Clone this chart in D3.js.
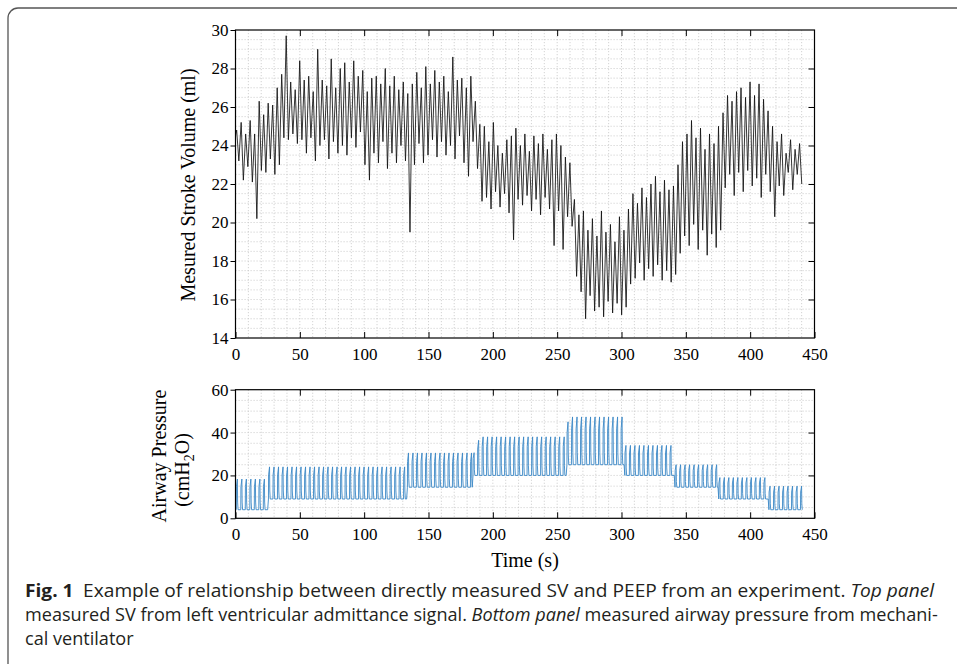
<!DOCTYPE html>
<html>
<head>
<meta charset="utf-8">
<script src="https://cdn.jsdelivr.net/npm/d3@7/dist/d3.min.js"></script>
<style>
  html, body { margin: 0; padding: 0; background: #fff; }
  svg { display: block; }
</style>
</head>
<body>
<svg id="fig" width="957" height="664"></svg>
<script>
// ---- data -------------------------------------------------------------
const timeTicks = [0, 50, 100, 150, 200, 250, 300, 350, 400, 450];
const svTicks = [14, 16, 18, 20, 22, 24, 26, 28, 30];
const pawTicks = [0, 20, 40, 60];

// Stroke volume (ml): per respiratory cycle maximum and minimum, one cycle every 3.5 s
const svCycle = 3.5;
const svStart = 24.5;
const svPeak = [
  24.8, 25.2, 24.6, 25.3, 24.6, 26.3, 25.6, 26.2, 26.1, 27.0,
  27.7, 29.7, 27.3, 26.9, 28.4, 27.4, 27.6, 26.8, 29.0, 27.4,
  27.1, 28.5, 27.0, 28.0, 28.3, 27.3, 28.4, 27.6, 27.9, 26.8,
  27.5, 27.6, 27.2, 28.0, 27.1, 27.6, 26.9, 27.3, 26.7, 27.2,
  27.8, 27.0, 28.1, 27.2, 27.9, 27.3, 27.6, 26.8, 28.6, 27.4,
  27.5, 27.0, 27.6, 26.3, 25.1, 25.0, 24.2, 25.2, 24.0, 23.6,
  24.3, 24.5, 24.9, 24.0, 24.6, 23.7, 24.5, 24.1, 24.6, 23.8,
  24.3, 24.6, 24.0, 23.4, 23.1, 21.2, 20.4, 20.6, 19.6, 20.2,
  19.3, 20.6, 19.5, 19.9, 19.0, 20.3, 19.6, 20.7, 21.5, 21.0,
  21.8, 21.3, 22.0, 22.4, 21.6, 22.2, 21.7, 21.9, 23.0, 24.2,
  24.6, 25.3, 24.4, 24.9, 23.8, 24.6, 24.1, 25.0, 25.7, 26.6,
  26.3, 26.8, 27.0, 26.5, 27.3, 26.6, 27.2, 26.4, 25.8, 25.0,
  24.2, 24.6, 23.6, 24.3, 23.8, 24.1
];
const svTrough = [
  23.2, 22.2, 22.9, 22.1, 20.2, 22.7, 22.6, 23.3, 22.5, 23.0,
  24.4, 24.3, 24.6, 24.1, 24.3, 23.6, 24.4, 23.2, 24.0, 24.3,
  23.3, 24.2, 23.6, 24.0, 23.5, 24.4, 23.9, 24.7, 23.0, 22.2,
  23.6, 23.1, 24.2, 22.8, 23.6, 23.1, 24.0, 23.2, 19.5, 23.0,
  24.1, 23.1, 23.5, 24.3, 23.4, 24.2, 23.5, 24.0, 23.3, 24.5,
  23.1, 22.4, 24.2, 22.8, 21.1, 21.3, 20.7, 21.6, 20.8, 21.5,
  20.5, 19.1, 21.2, 20.9, 21.4, 20.6, 21.2, 20.4, 21.3, 20.7,
  18.8, 20.6, 18.6, 20.3, 19.8, 17.2, 16.4, 15.0, 16.2, 15.4,
  15.6, 15.1, 15.9, 15.3, 15.8, 15.2, 15.6, 16.8, 17.1, 17.9,
  17.0, 17.6, 17.2, 17.8, 17.0, 17.5, 16.9, 17.3, 18.4, 19.3,
  18.8, 19.9, 18.6, 19.6, 18.3, 19.4, 18.7, 19.6, 21.8, 22.5,
  21.4, 22.6, 21.6, 22.7, 21.9, 22.3, 21.3, 22.5, 21.6, 20.3,
  21.9, 21.4, 22.6, 21.7, 22.5, 22.0
];

// Airway pressure (cmH2O): PEEP steps with peak inspiratory pressure per step
const breathPeriod = 3.5;
const segStart = [0, 25, 133, 184, 257, 302, 341, 375, 414];
const segEnd   = [25, 133, 184, 257, 302, 341, 375, 414, 440.5];
const peep     = [4, 9, 14.5, 20, 25, 20, 14.5, 9, 4];
const peakP    = [18.3, 24, 30.5, 38, 47.3, 34, 25, 19, 15];
const leadPeaks = [[], [], [], [30.6, 36.4], [45.0], [], [], [], []];

// ---- layout -----------------------------------------------------------
const svg = d3.select("#fig");
const serif = "'Liberation Serif', 'Times New Roman', serif";

svg.append("rect")
  .attr("x", 8).attr("y", 8).attr("width", 1000).attr("height", 720)
  .attr("rx", 10).attr("ry", 10)
  .attr("fill", "none").attr("stroke", "#555").attr("stroke-width", 1.3);

const x = d3.scaleLinear().domain([0, 450]).range([235.5, 814.5]);
const ySV = d3.scaleLinear().domain([14, 30]).range([338, 30]);
const yP = d3.scaleLinear().domain([0, 60]).range([518.3, 389.7]);

function panel(y, yTicks, yGridStep) {
  const g = svg.append("g");
  const [x0, x1] = x.range();
  const [yb, yt] = y.range();
  const grid = g.append("g")
    .attr("stroke", "#c8c8c8").attr("stroke-width", 0.8)
    .attr("stroke-dasharray", "1.2,1.8");
  grid.selectAll("line.v").data(d3.range(10, 450, 10)).join("line")
    .attr("x1", d => x(d)).attr("x2", d => x(d)).attr("y1", yt).attr("y2", yb);
  const [d0, d1] = y.domain();
  grid.selectAll("line.h").data(d3.range(d0 + yGridStep, d1 - 1e-9, yGridStep)).join("line")
    .attr("y1", d => y(d)).attr("y2", d => y(d)).attr("x1", x0).attr("x2", x1);
  return g;
}

function frameAxes(g, y, yTicks) {
  const [x0, x1] = x.range();
  const [yb, yt] = y.range();
  const style = sel => {
    sel.select(".domain").remove();
    sel.selectAll("line").attr("stroke", "#000").attr("stroke-width", 1);
    sel.selectAll("text").attr("fill", "#000")
      .style("font-family", serif).style("font-size", "17px");
  };
  g.append("g").attr("transform", `translate(0,${yb})`)
    .call(d3.axisBottom(x).tickValues(timeTicks).tickFormat(d3.format("d"))
      .tickSizeInner(-6).tickSizeOuter(0).tickPadding(10))
    .call(style);
  g.append("g").attr("transform", `translate(0,${yt})`)
    .call(d3.axisTop(x).tickValues(timeTicks.slice(1, -1)).tickFormat("")
      .tickSizeInner(-6).tickSizeOuter(0))
    .call(style);
  g.append("g").attr("transform", `translate(${x0},0)`)
    .call(d3.axisLeft(y).tickValues(yTicks).tickFormat(d3.format("d"))
      .tickSizeInner(5).tickSizeOuter(0).tickPadding(2))
    .call(style);
  g.append("g").attr("transform", `translate(${x1},0)`)
    .call(d3.axisRight(y).tickValues(yTicks.slice(1, -1)).tickFormat("")
      .tickSizeInner(-6).tickSizeOuter(0))
    .call(style);
  g.append("rect")
    .attr("x", x0).attr("y", yt).attr("width", x1 - x0).attr("height", yb - yt)
    .attr("fill", "none").attr("stroke", "#000").attr("stroke-width", 1.2);
}

// ---- top panel: stroke volume ----------------------------------------
const gTop = panel(ySV, svTicks, 0.5);
const svPoints = [[0, svStart]];
svPeak.forEach((v, i) => {
  svPoints.push([i * svCycle + 0.9, v]);
  svPoints.push([i * svCycle + 2.6, svTrough[i]]);
});
gTop.append("path")
  .datum(svPoints)
  .attr("fill", "none").attr("stroke", "#111").attr("stroke-width", 0.85)
  .attr("stroke-linejoin", "round")
  .attr("d", d3.line().x(d => x(d[0])).y(d => ySV(d[1])));
frameAxes(gTop, ySV, svTicks);

svg.append("text")
  .attr("transform", "translate(195,185) rotate(-90)")
  .attr("text-anchor", "middle")
  .style("font-family", serif).style("font-size", "20px")
  .text("Mesured Stroke Volume (ml)");

// ---- bottom panel: airway pressure -----------------------------------
const gBot = panel(yP, pawTicks, 5);
const pPoints = [];
segStart.forEach((s, k) => {
  const lo = peep[k];
  let n = 0;
  for (let t0 = s + 0.6; t0 + 1.4 <= segEnd[k]; t0 += breathPeriod, n++) {
    const hi = n < leadPeaks[k].length ? leadPeaks[k][n] : peakP[k];
    pPoints.push([t0, lo]);
    pPoints.push([t0 + 0.12, lo + 0.75 * (hi - lo)]);
    pPoints.push([t0 + 0.85, hi]);
    pPoints.push([t0 + 1.05, lo + 0.25 * (hi - lo)]);
    pPoints.push([t0 + 1.4, lo]);
  }
  pPoints.push([segEnd[k], lo]);
});
gBot.append("path")
  .datum(pPoints)
  .attr("fill", "none").attr("stroke", "#3b88c6").attr("stroke-width", 0.9)
  .attr("stroke-linejoin", "round")
  .attr("d", d3.line().x(d => x(d[0])).y(d => yP(d[1])));
frameAxes(gBot, yP, pawTicks);

svg.append("text")
  .attr("transform", "translate(166,456) rotate(-90)")
  .attr("text-anchor", "middle")
  .style("font-family", serif).style("font-size", "20px")
  .text("Airway Pressure");
const yl2 = svg.append("text")
  .attr("transform", "translate(189,470) rotate(-90)")
  .attr("text-anchor", "middle")
  .style("font-family", serif).style("font-size", "20px");
yl2.append("tspan").text("(cmH");
yl2.append("tspan").attr("dy", 5).style("font-size", "14px").text("2");
yl2.append("tspan").attr("dy", -5).text("O)");

svg.append("text")
  .attr("x", 525).attr("y", 567)
  .attr("text-anchor", "middle")
  .style("font-family", serif).style("font-size", "20px")
  .text("Time (s)");

// ---- caption ----------------------------------------------------------
const capFont = "'Open Sans', 'Noto Sans', sans-serif";
function captionLine(yBase, parts) {
  const t = svg.append("text")
    .attr("x", 25).attr("y", yBase)
    .attr("fill", "#231f20")
    .style("font-family", capFont).style("font-size", "17.5px");
  parts.forEach(p => {
    const s = t.append("tspan").text(p.text);
    if (p.bold) s.attr("font-weight", "bold");
    if (p.italic) s.attr("font-style", "italic");
  });
  return { node: t, w: t.node().getComputedTextLength() };
}
const c1 = captionLine(597, [
  { text: "Fig. 1", bold: true },
  { text: "\u2002Example of relationship between directly measured SV and PEEP from an experiment. " },
  { text: "Top panel", italic: true }
]);
const c2 = captionLine(621, [
  { text: "measured SV from left ventricular admittance signal. " },
  { text: "Bottom panel", italic: true },
  { text: " measured airway pressure from mechani-" }
]);
const c3 = captionLine(645, [{ text: "cal ventilator" }]);
const sx1 = (935 - 25) / c1.w;
const sx2 = (938 - 25) / c2.w;
c1.node.attr("transform", `translate(25,0) scale(${sx1},1) translate(-25,0)`);
c2.node.attr("transform", `translate(25,0) scale(${sx2},1) translate(-25,0)`);
c3.node.attr("transform", `translate(25,0) scale(${sx2},1) translate(-25,0)`);
</script>
</body>
</html>
